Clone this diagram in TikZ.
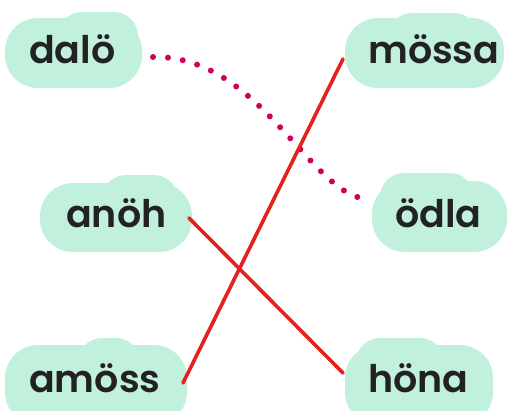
\documentclass[tikz,border=0pt]{standalone}
\usepackage{fontspec}
\setmainfont{Poppins}[BoldFont={Poppins SemiBold}]
\definecolor{mint}{HTML}{C1F0DC}
\definecolor{ink}{HTML}{222222}
\definecolor{linered}{HTML}{E3211F}
\definecolor{dotpink}{HTML}{D1005C}
\newcommand\cloudblob[7]{%
  % #1 left, #2 main top, #3 right, #4 bottom, #5 bump left, #6 bump right, #7 bump top
  \fill[mint,rounded corners=33pt] (#1,#2) rectangle (#3,#4);
  \fill[mint,rounded corners=24pt] (#5,#7) rectangle (#6,#2+50);
}
\begin{document}
\begin{tikzpicture}[x=1pt,y=-1pt,
  word/.style={font=\bfseries\fontsize{38}{40}\selectfont,text=ink,inner sep=0pt,anchor=base west},
  match/.style={draw=linered,line width=3.6pt,line cap=round},
  guess/.style={draw=dotpink,line width=6pt,line cap=round,dash pattern=on 0pt off 15pt}]
\useasboundingbox (0,0) rectangle (522,410);
% clouds
\cloudblob{5}{18}{142}{88}{58}{138}{12}
\cloudblob{345}{18}{504}{88}{388}{478}{13}
\cloudblob{40}{183}{192}{252}{102}{178}{175}
\cloudblob{372}{181}{507}{252}{380}{474}{173}
\cloudblob{5}{345}{187}{425}{78}{140}{338}
\cloudblob{345}{345}{493}{425}{356}{444}{338}
% words
\node[word] (dalo) at (29,63) {dalö};
\node[word] (mossa) at (368,63) {mössa};
\node[word] (anoh) at (66,227) {anöh};
\node[word] (odla) at (395,227) {ödla};
\node[word] (amoss) at (29,392) {amöss};
\node[word] (hona) at (368,392) {höna};
% connector ends
\coordinate (dalo-r) at (153,57);
\coordinate (odla-l) at (367,199);
\coordinate (anoh-r) at (189,218);
\coordinate (hona-l) at (343,373);
\coordinate (amoss-r) at (183,383);
\coordinate (mossa-l) at (343,59);
% connectors
\draw[guess] (dalo-r) .. controls (260,55) and (310,195) .. (odla-l);
\draw[match] (anoh-r) -- (hona-l);
\draw[match] (amoss-r) -- (mossa-l);
\end{tikzpicture}
\end{document}
